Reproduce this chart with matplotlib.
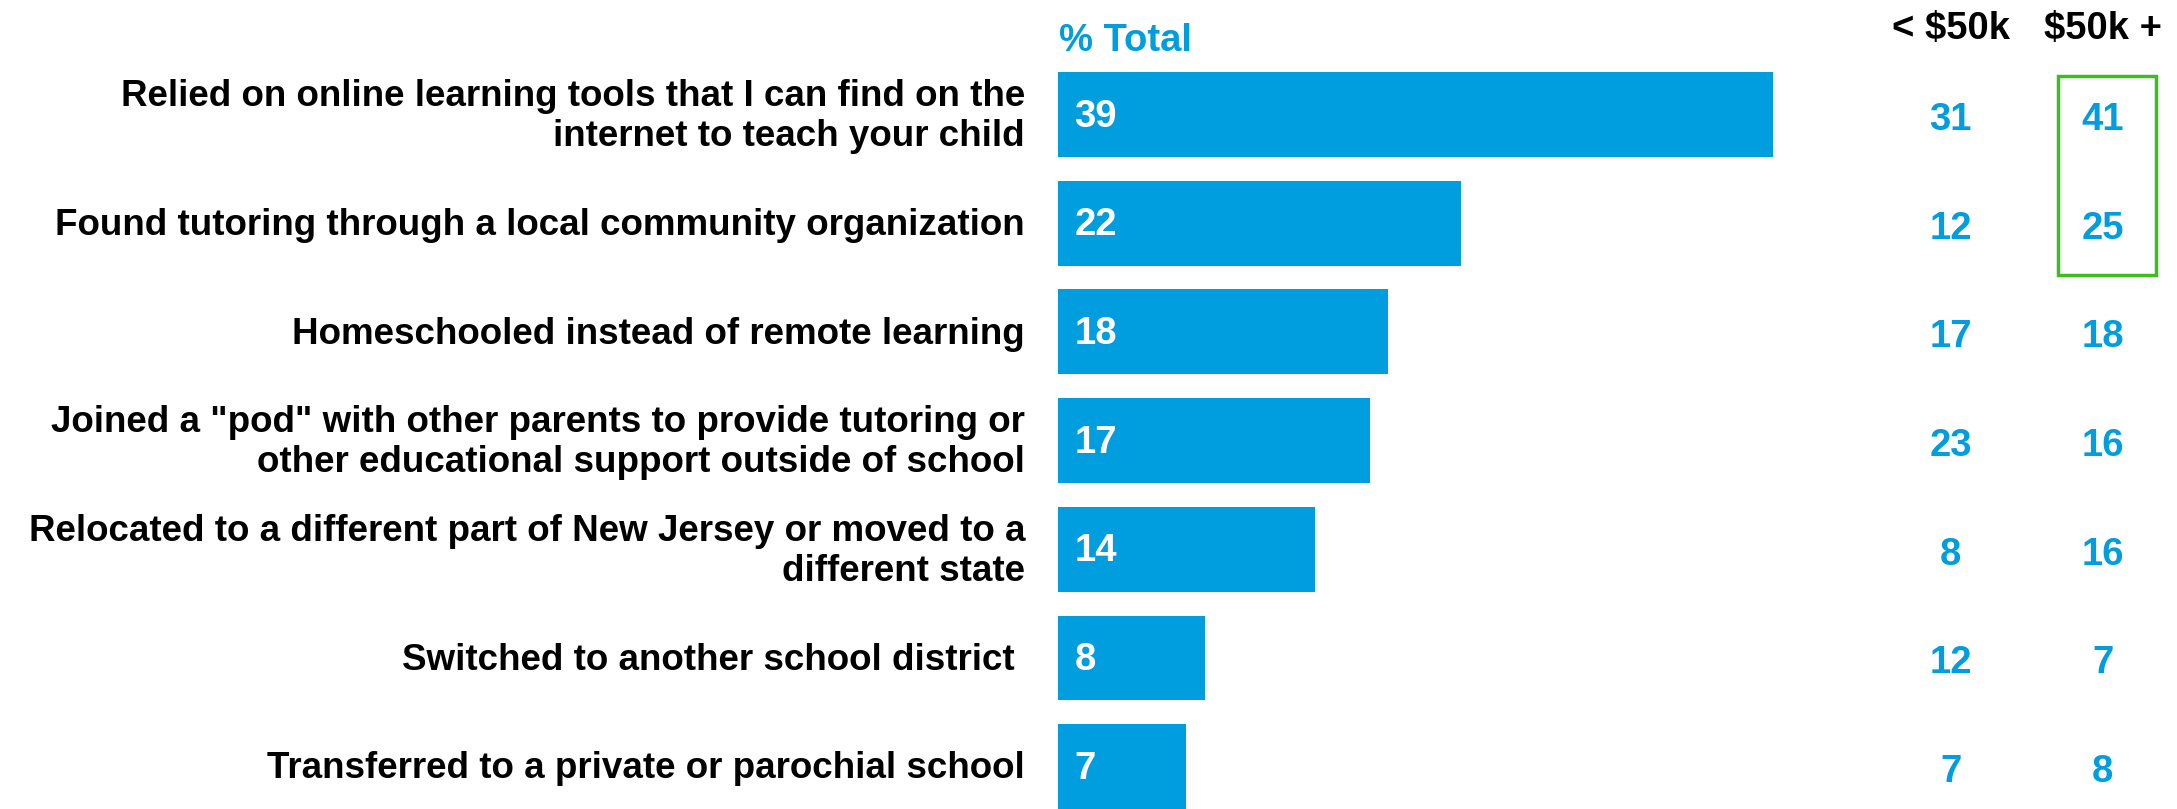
import matplotlib.pyplot as plt
from matplotlib.patches import Rectangle

plt.rcParams['font.family'] = ['Liberation Sans', 'DejaVu Sans']
plt.rcParams['font.weight'] = 'bold'

# survey data
labels = [
    'Relied on online learning tools that I can find on the\ninternet to teach your child',
    'Found tutoring through a local community organization',
    'Homeschooled instead of remote learning',
    'Joined a "pod" with other parents to provide tutoring or\nother educational support outside of school',
    'Relocated to a different part of New Jersey or moved to a\ndifferent state',
    'Switched to another school district ',
    'Transferred to a private or parochial school',
]
total = [39, 22, 18, 17, 14, 8, 7]
under_50k = [31, 12, 17, 23, 8, 12, 7]
over_50k = [41, 25, 18, 16, 16, 7, 8]
col_headers = ['< $50k', '$50k +']

blue = '#009DDF'
green = '#3DBE1E'

W, H = 2177, 809
fig = plt.figure(figsize=(W / 100, H / 100), dpi=100)

#axes starts where the bars start and runs to the right edge
x0 = 1058
ax = fig.add_axes([x0 / W, 0, (W - x0) / W, 1])
ax.set_xlim(0, (W - x0) / 18.33)
ax.set_ylim(6.389, -1.053)
ax.axis('off')

rows = range(len(labels))
ax.barh(rows, total, height=0.78, color=blue)

fs = 26.5
fn = 27.5
for i in rows:
    ax.text(-1.8, i + 0.02, labels[i], ha='right', va='center', fontsize=fs,
            fontweight='bold', linespacing=1.2, clip_on=False)
    ax.text(0.9, i + 0.02, str(total[i]), ha='left', va='center', color='white',
            fontsize=fn, fontweight='bold')
    ax.text(48.7, i + 0.05, str(under_50k[i]), ha='center', va='center',
            color=blue, fontsize=fn, fontweight='bold')
    ax.text(57.0, i + 0.05, str(over_50k[i]), ha='center', va='center',
            color=blue, fontsize=fn, fontweight='bold')

ax.text(0.05, -0.68, '% Total', ha='left', va='center', color=blue,
        fontsize=fn, fontweight='bold')
ax.text(48.7, -0.79, col_headers[0], ha='center', va='center', fontsize=fn,
        fontweight='bold')
ax.text(57.0, -0.79, col_headers[1], ha='center', va='center', fontsize=fn,
        fontweight='bold')

#green highlight box round the first two $50k+ values
ax.add_patch(Rectangle((54.56, -0.354), 5.35, 1.83, fill=False,
                       edgecolor=green, linewidth=2.5, clip_on=False))

fig.savefig('out.png', dpi=100)
